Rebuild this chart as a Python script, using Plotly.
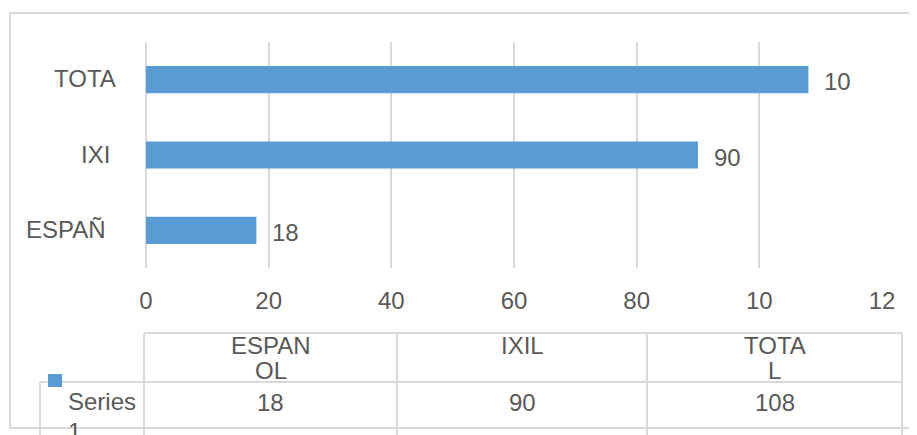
import plotly.graph_objects as go

# ---------------- data ----------------
categories = ["ESPAÑOL", "IXIL", "TOTAL"]
values = [18, 90, 108]
axis_labels = ["ESPAÑ", "IXI", "TOTA"]          # truncated as shown
bar_labels = ["18", "90", "10"]                  # truncated as shown
table_headers = [["ESPAN", "OL"], ["IXIL"], ["TOTA", "L"]]
series_name = ["Series", "1"]
x_tickvals = [0, 20, 40, 60, 80, 100, 120]
x_ticktext = ["0", "20", "40", "60", "80", "10", "12"]

# ---------------- style ----------------
OFF = 8                                  # page body margin
W, H = 917 - OFF, 435 - OFF
PL, PR, PT, PB = 146, 882, 42, 268       # plot area in page pixels
BAR = "#5B9BD5"
GRID = "#D9D9D9"
TXT = "#595959"
FONT = "Liberation Sans, Arial, sans-serif"
FS = 24
label_right = [108, 112, 118]            # right edge of category labels (page px)


def px(x):
    return (x - PL) / (PR - PL)


def py(y):
    return (PB - y) / (PB - PT)


fig = go.Figure()
fig.add_trace(go.Bar(
    y=categories, x=values, orientation="h",
    marker=dict(color=BAR, line=dict(width=0)),
    width=0.36, hoverinfo="skip",
))

# value labels next to bars
for c, v, t in zip(categories, values, bar_labels):
    fig.add_annotation(x=v, y=c, xref="x", yref="y", text=t, showarrow=False,
                       xanchor="left", yanchor="middle", xshift=14, yshift=-2,
                       font=dict(family=FONT, size=FS, color=TXT))
# category labels
for c, t, r in zip(categories, axis_labels, label_right):
    fig.add_annotation(x=px(r), y=c, xref="paper", yref="y", text=t, showarrow=False,
                       xanchor="right", yanchor="middle", yshift=1,
                       font=dict(family=FONT, size=FS, color=TXT))

shapes = []
line = dict(color=GRID, width=2)
# outer chart border
shapes.append(dict(type="rect", xref="paper", yref="paper",
                   x0=px(10), x1=px(940), y0=py(428), y1=py(13), line=line))
# data table lines
cols = [144, 397, 647, 902]
shapes.append(dict(type="line", xref="paper", yref="paper",
                   x0=px(144), x1=px(902), y0=py(333), y1=py(333), line=line))
shapes.append(dict(type="line", xref="paper", yref="paper",
                   x0=px(40), x1=px(902), y0=py(382), y1=py(382), line=line))
for cx in cols:
    shapes.append(dict(type="line", xref="paper", yref="paper",
                       x0=px(cx), x1=px(cx), y0=py(333), y1=py(450), line=line))
shapes.append(dict(type="line", xref="paper", yref="paper",
                   x0=px(40), x1=px(40), y0=py(382), y1=py(450), line=line))
# legend key
shapes.append(dict(type="rect", xref="paper", yref="paper",
                   x0=px(48), x1=px(62), y0=py(387), y1=py(374),
                   fillcolor=BAR, line=dict(width=0)))

# table texts
for i, (hdr, v) in enumerate(zip(table_headers, values)):
    cxm = (cols[i] + cols[i + 1]) / 2
    for j, part in enumerate(hdr):
        fig.add_annotation(x=px(cxm), y=py(345 + 25 * j), xref="paper", yref="paper",
                           text=part, showarrow=False, xanchor="center", yanchor="middle",
                           font=dict(family=FONT, size=FS, color=TXT))
    fig.add_annotation(x=px(cxm), y=py(402), xref="paper", yref="paper",
                       text=str(v), showarrow=False, xanchor="center", yanchor="middle",
                       font=dict(family=FONT, size=FS, color=TXT))
for j, part in enumerate(series_name):
    fig.add_annotation(x=px(66), y=py(401 + 30 * j), xref="paper", yref="paper",
                       text=part, showarrow=False, xanchor="left", yanchor="middle",
                       font=dict(family=FONT, size=FS, color=TXT))

fig.update_layout(
    width=W, height=H,
    margin=dict(l=PL - OFF, r=W - (PR - OFF), t=PT - OFF, b=H - (PB - OFF), pad=0),
    paper_bgcolor="white", plot_bgcolor="white",
    showlegend=False, bargap=0.64,
    shapes=shapes,
    font=dict(family=FONT, size=FS, color=TXT),
    xaxis=dict(range=[0, 120], tickvals=x_tickvals, ticktext=x_ticktext,
               showgrid=True, gridcolor=GRID, gridwidth=2,
               zeroline=True, zerolinecolor=GRID, zerolinewidth=2,
               showline=False, ticks="", ticklabelstandoff=16,
               tickfont=dict(family=FONT, size=FS, color=TXT), fixedrange=True),
    yaxis=dict(categoryorder="array", categoryarray=categories,
               showticklabels=False,
               showgrid=False, zeroline=False, showline=False, ticks="",
               fixedrange=True),
)

fig.write_html("out.html")
